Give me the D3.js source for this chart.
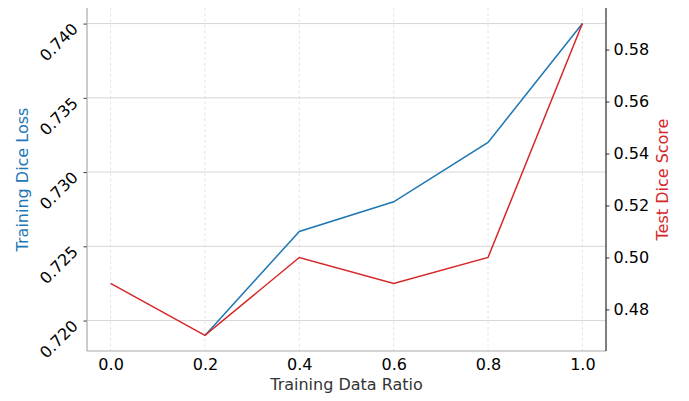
<!DOCTYPE html>
<html>
<head>
<meta charset="utf-8">
<script src="https://cdn.jsdelivr.net/npm/d3@7"></script>
<style>
  body { margin: 0; background: #fff; }
  svg { display: block; font-family: "DejaVu Sans", sans-serif; }
</style>
</head>
<body>
<svg id="chart" width="689" height="401"></svg>
<script>
// Training data ratio sweep
const ratios = [0.0, 0.2, 0.4, 0.6, 0.8, 1.0];
const trainDiceLoss = [null, 0.719, 0.726, 0.728, 0.732, 0.740];
const testDiceScore = [0.49, 0.47, 0.50, 0.49, 0.50, 0.59];

const xTicks = [0.0, 0.2, 0.4, 0.6, 0.8, 1.0];
const leftTicks = [0.720, 0.725, 0.730, 0.735, 0.740];
const rightTicks = [0.48, 0.50, 0.52, 0.54, 0.56, 0.58];

const blue = "#1f77b4", red = "#d62728";
const svg = d3.select("#chart");
const m = { left: 87, right: 606, top: 8, bottom: 351 };

// padded domains (5% margin around the data)
function padded(vals) {
  const v = vals.filter(d => d != null);
  const lo = d3.min(v), hi = d3.max(v), p = (hi - lo) * 0.05;
  return [lo - p, hi + p];
}

const x = d3.scaleLinear().domain(padded(ratios)).range([m.left, m.right]);
const yL = d3.scaleLinear().domain(padded(trainDiceLoss)).range([m.bottom, m.top]);
const yR = d3.scaleLinear().domain(padded(testDiceScore)).range([m.bottom, m.top]);

// grid
const grid = svg.append("g");
grid.selectAll("line.h").data(leftTicks).join("line")
  .attr("x1", m.left).attr("x2", m.right)
  .attr("y1", d => yL(d)).attr("y2", d => yL(d))
  .attr("stroke", "#cccccc").attr("stroke-width", 0.8);
grid.selectAll("line.v").data(xTicks).join("line")
  .attr("y1", m.top).attr("y2", m.bottom)
  .attr("x1", d => x(d)).attr("x2", d => x(d))
  .attr("stroke", "#dddddd").attr("stroke-width", 0.8)
  .attr("stroke-dasharray", "3,2.5");

// lines
const lineL = d3.line().defined(d => d[1] != null).x(d => x(d[0])).y(d => yL(d[1]));
const lineR = d3.line().x(d => x(d[0])).y(d => yR(d[1]));
svg.append("path").datum(ratios.map((r, i) => [r, trainDiceLoss[i]]))
  .attr("d", lineL).attr("fill", "none").attr("stroke", blue).attr("stroke-width", 1.5);
svg.append("path").datum(ratios.map((r, i) => [r, testDiceScore[i]]))
  .attr("d", lineR).attr("fill", "none").attr("stroke", red).attr("stroke-width", 1.5);

// bottom axis
const xAxis = svg.append("g").attr("transform", `translate(0,${m.bottom})`)
  .call(d3.axisBottom(x).tickValues(xTicks).tickFormat(d3.format(".1f")).tickSize(0).tickPadding(8));
xAxis.select(".domain").remove();
xAxis.selectAll("text").attr("font-size", 16).attr("fill", "#000").attr("font-family", "DejaVu Sans");

// left axis (rotated tick labels)
const lAxis = svg.append("g").attr("transform", `translate(${m.left},0)`)
  .call(d3.axisLeft(yL).tickValues(leftTicks).tickFormat(d3.format(".3f")).tickSize(3.5).tickPadding(7));
lAxis.select(".domain").remove();
lAxis.selectAll(".tick line").attr("stroke", "#000").attr("stroke-width", 0.8);
lAxis.selectAll("text")
  .attr("font-size", 16).attr("fill", "#000").attr("font-family", "DejaVu Sans")
  .attr("x", null).attr("dy", null)
  .attr("text-anchor", "end").attr("dominant-baseline", "central")
  .attr("transform", "translate(-12,2) rotate(-45)");

// right axis
const rAxis = svg.append("g").attr("transform", `translate(${m.right},0)`)
  .call(d3.axisRight(yR).tickValues(rightTicks).tickFormat(d3.format(".2f")).tickSize(3.5).tickPadding(4));
rAxis.select(".domain").remove();
rAxis.selectAll(".tick line").attr("stroke", "#000").attr("stroke-width", 0.8);
rAxis.selectAll("text").attr("font-size", 16).attr("fill", "#000").attr("font-family", "DejaVu Sans");

// spines
svg.append("line").attr("x1", m.left).attr("x2", m.left).attr("y1", m.top).attr("y2", m.bottom)
  .attr("stroke", "#aaaaaa").attr("stroke-width", 1.2);
svg.append("line").attr("x1", m.left).attr("x2", m.right).attr("y1", m.bottom).attr("y2", m.bottom)
  .attr("stroke", "#aaaaaa").attr("stroke-width", 1.2);
svg.append("line").attr("x1", m.right).attr("x2", m.right).attr("y1", m.top).attr("y2", m.bottom)
  .attr("stroke", "#000").attr("stroke-width", 1);

// axis titles
const cy = (m.top + m.bottom) / 2;
svg.append("text").attr("x", (m.left + m.right) / 2).attr("y", 390)
  .attr("text-anchor", "middle").attr("font-size", 16).attr("fill", "#333")
  .text("Training Data Ratio");
svg.append("text").attr("transform", `translate(28,${cy}) rotate(-90)`)
  .attr("text-anchor", "middle").attr("font-size", 16).attr("fill", blue)
  .text("Training Dice Loss");
svg.append("text").attr("transform", `translate(668,${cy}) rotate(-90)`)
  .attr("text-anchor", "middle").attr("font-size", 16).attr("fill", red)
  .text("Test Dice Score");
</script>
</body>
</html>
